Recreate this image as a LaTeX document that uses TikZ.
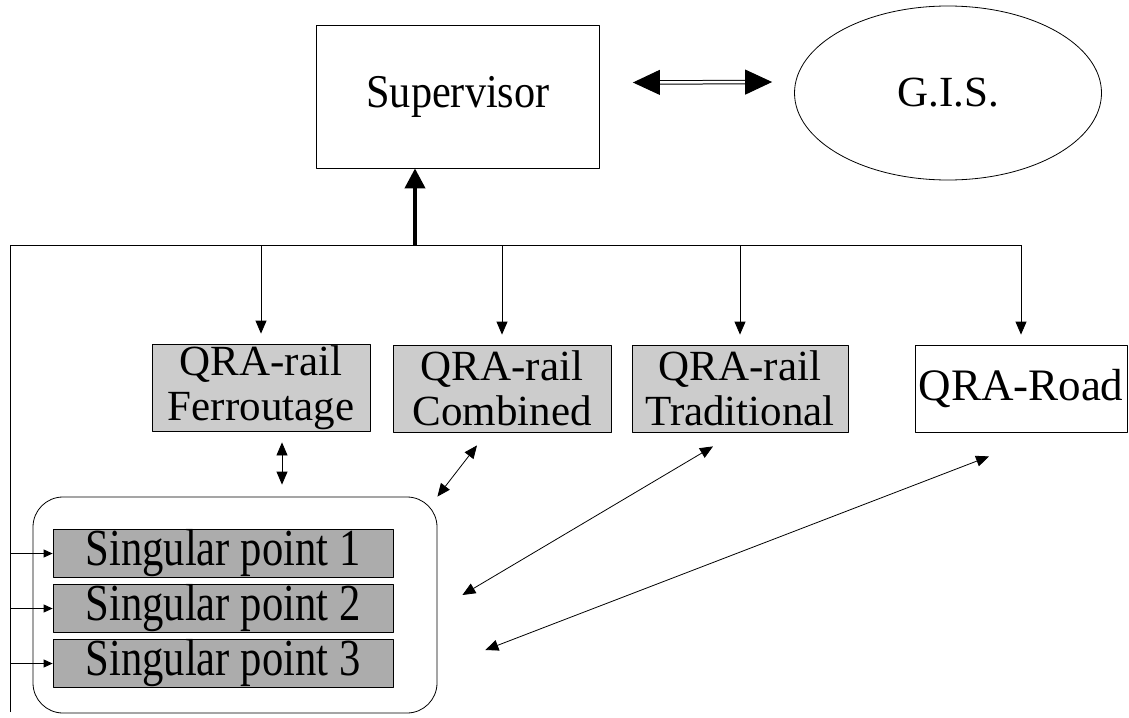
\documentclass[tikz,border=0pt]{standalone}
\usepackage{fontspec}
\setmainfont{Liberation Serif}
\newfontfamily\supfont[FakeStretch=0.9]{Liberation Serif}
\newfontfamily\pointfont[FakeStretch=0.82]{Liberation Serif}
\usetikzlibrary{arrows.meta,shapes.geometric}
\begin{document}
\begin{tikzpicture}[x=1pt,y=-1pt,line join=round,line width=0.8pt,>={Triangle[length=13pt,width=11pt]}]
	\tikzset{every node/.style={font=\fontsize{43}{45}\selectfont,inner sep=1pt},
		box/.style={draw,rectangle,align=center},
		railbox/.style={box,fill=gray!40,minimum height=87pt},
		pointbox/.style={box,fill=gray!65,minimum width=340pt,minimum height=46pt,
			font=\pointfont\fontsize{52}{52}\selectfont,inner sep=0pt}}
	\useasboundingbox (0,0) rectangle (1129,717);
	% top level
	\node[box,minimum width=283pt,minimum height=143pt,font=\supfont\fontsize{47}{47}\selectfont] (sup) at (458,96.5) {Supervisor};
	\node[draw,ellipse,minimum width=307pt,minimum height=174pt] (gis) at (948,93) {G.I.S.};
	\draw[double,double distance=2.5pt,line width=1pt,{Triangle[length=27pt,width=25pt]}-{Triangle[length=27pt,width=25pt]}] ([shift={(33,-14)}]sup.east) -- ([shift={(-22,-11)}]gis.west);
	% QRA modules
	\node[railbox,minimum width=218pt] (qf) at (261,387.5) {QRA-rail\\Ferroutage};
	\node[railbox,minimum width=218pt] (qc) at (502,388.5) {QRA-rail\\Combined};
	\node[railbox,minimum width=216pt] (qt) at (740,388.5) {QRA-rail\\Traditional};
	\node[box,minimum width=212pt,minimum height=87pt,font=\fontsize{45}{45}\selectfont] (qr) at (1021,388.5) {QRA-Road};
	% singular points
	\node[draw,rounded corners=30pt,minimum width=404pt,minimum height=216pt] (cont) at (235,605) {};
	\foreach \i/\y in {1/553.5,2/608.5,3/663.5}
		\node[pointbox] (sp\i) at (223,\y) {Singular point \i};
	% bus
	\coordinate (bl) at (10,245);
	\coordinate (bb) at (10,712);
	\coordinate (tb) at (415,245);
	\draw (bb) -- (bl) -- (qr.north |- bl);
	\draw[line width=4pt,-{Triangle[length=20pt,width=20pt]}] (tb) -- (tb |- sup.south);
	\foreach \n in {qf,qc,qt,qr}
		\draw[->] (\n.north |- bl) -- ([yshift=10pt]\n.north);
	\foreach \i in {1,2,3}
		\draw[-{Triangle[length=9pt,width=8pt]}] (bl |- sp\i.west) -- (sp\i.west);
	% links
	\draw[<->] ([shift={(21,11)}]qf.south) -- ([shift={(47,-12)}]cont.north);
	\draw[<->] ([shift={(-25,13)}]qc.south) -- (cont.north east);
	\draw[<->] ([shift={(-27,14)}]qt.south) -- ([shift={(25,-10)}]cont.east);
	\draw[<->] ([shift={(-32,24)}]qr.south) -- ([shift={(48,45)}]cont.east);
\end{tikzpicture}
\end{document}
